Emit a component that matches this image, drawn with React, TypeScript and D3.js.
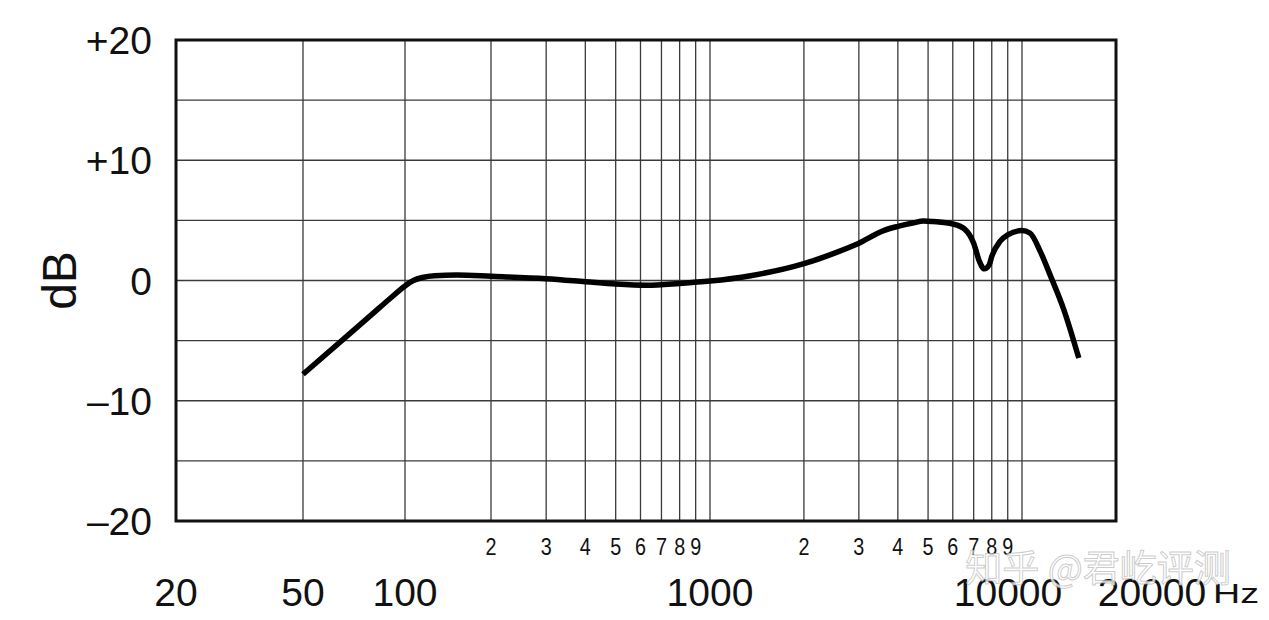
import React from "react";
import * as d3 from "d3";

// Frequency response data (Hz, dB)
const freqs = [50, 67, 80, 90, 100, 107, 115, 127, 152, 200, 300, 400, 500, 630, 800, 1000, 1350, 2000, 2520, 3000, 3600, 4000, 4500, 4830, 5200, 6000, 6550, 7000, 7300, 7570, 7850, 8000, 8500, 9000, 10000, 10600, 11450, 12300, 13600, 15200];
const dbValues = [-7.8, -4.69, -2.8, -1.54, -0.45, 0.0, 0.25, 0.4, 0.45, 0.35, 0.15, -0.1, -0.3, -0.4, -0.25, -0.05, 0.4, 1.4, 2.3, 3.1, 4.15, 4.5, 4.8, 4.95, 4.9, 4.7, 4.27, 3.1, 1.6, 0.97, 1.3, 2.0, 3.25, 3.8, 4.15, 3.95, 2.4, 0.47, -2.4, -6.45];

// Axis ticks
const yTickValues = [20, 10, 0, -10, -20];
const yTickLabels = ["+20", "+10", "0", "\u201310", "\u201320"];
const yGridValues = [-15, -10, -5, 0, 5, 10, 15];
const xGridValues = [50, 100, 200, 300, 400, 500, 600, 700, 800, 900, 1000, 2000, 3000, 4000, 5000, 6000, 7000, 8000, 9000, 10000];
const minorTickValues = [200, 300, 400, 500, 600, 700, 800, 900, 2000, 3000, 4000, 5000, 6000, 7000, 8000, 9000];
const minorTickLabels = ["2", "3", "4", "5", "6", "7", "8", "9", "2", "3", "4", "5", "6", "7", "8", "9"];
const majorTickValues = [20, 50, 100, 1000, 10000, 20000];
const majorTickLabels = ["20", "50", "100", "1000", "10000", "20000"];
const unitLabel = "Hz";
const yAxisTitle = "dB";
const watermark = "知乎 @君屹评测";

const W = 1269;
const H = 620;
const left = 176, right = 1116, top = 40, bottom = 521;

export default function App() {
  const x = d3
    .scaleLog()
    .domain([20, 50, 100, 200, 1000, 10000, 20000])
    .range([left, 303, 405, 491, 710, 1022, right]);
  const y = d3.scaleLinear().domain([-20, 20]).range([bottom, top]);

  const pts: [number, number][] = freqs.map((f, i) => [x(f), y(dbValues[i])]);
  const line = d3.line<[number, number]>().x((d) => d[0]).y((d) => d[1]).curve(d3.curveMonotoneX);

  const font = "'Liberation Sans', Arial, Helvetica, sans-serif";
  const majorOffset: Record<number, number> = { 10000: -14, 20000: 36 };

  return (
    <div style={{ position: "absolute", left: 0, top: 0, width: W, height: H, background: "#fff" }}>
      <svg width={W} height={H} viewBox={`0 0 ${W} ${H}`} style={{ display: "block" }}>
        <rect x={0} y={0} width={W} height={H} fill="#fff" />
        {/* grid */}
        <g stroke="#3a3a3a" strokeWidth={1.3}>
          {yGridValues.map((v) => (
            <line key={"h" + v} x1={left} x2={right} y1={y(v)} y2={y(v)} />
          ))}
          {xGridValues.map((v) => (
            <line key={"v" + v} x1={x(v)} x2={x(v)} y1={top} y2={bottom} />
          ))}
        </g>
        {/* border */}
        <rect x={left} y={top} width={right - left} height={bottom - top} fill="none" stroke="#111" strokeWidth={3} />
        {/* curve */}
        <path d={line(pts) || ""} fill="none" stroke="#000" strokeWidth={5.5} strokeLinejoin="round" />
        {/* y labels */}
        <g fontFamily={font} fontSize={39} fill="#111" textAnchor="end">
          {yTickValues.map((v, i) => (
            <text key={"yl" + v} x={152} y={y(v)} dy="0.36em">
              {yTickLabels[i]}
            </text>
          ))}
        </g>
        <text
          fontFamily={font}
          fontSize={48}
          fill="#111"
          textAnchor="middle"
          transform={`translate(76,${y(0)}) rotate(-90)`}
        >
          {yAxisTitle}
        </text>
        {/* minor x labels */}
        <g fontFamily={font} fontSize={23} fill="#111" textAnchor="middle">
          {minorTickValues.map((v, i) => (
            <text key={"mx" + v} x={x(v)} y={555} textLength={11} lengthAdjust="spacingAndGlyphs">
              {minorTickLabels[i]}
            </text>
          ))}
        </g>
        {/* major x labels */}
        <g fontFamily={font} fontSize={39} fill="#111" textAnchor="middle">
          {majorTickValues.map((v, i) => (
            <text key={"Mx" + v} x={x(v) + (majorOffset[v] || 0)} y={606}>
              {majorTickLabels[i]}
            </text>
          ))}
        </g>
        <text x={1213} y={603} fontFamily={font} fontSize={28} fill="#111" textLength={46} lengthAdjust="spacingAndGlyphs">
          {unitLabel}
        </text>
        {/* watermark */}
        <text
          x={1098}
          y={582}
          textAnchor="middle"
          fontFamily="'Noto Sans CJK SC', sans-serif"
          fontSize={37}
          fill="#ffffff"
          fillOpacity={0.8}
          stroke="#a0a0a0"
          strokeOpacity={0.55}
          strokeWidth={1}
        >
          {watermark}
        </text>
      </svg>
    </div>
  );
}
